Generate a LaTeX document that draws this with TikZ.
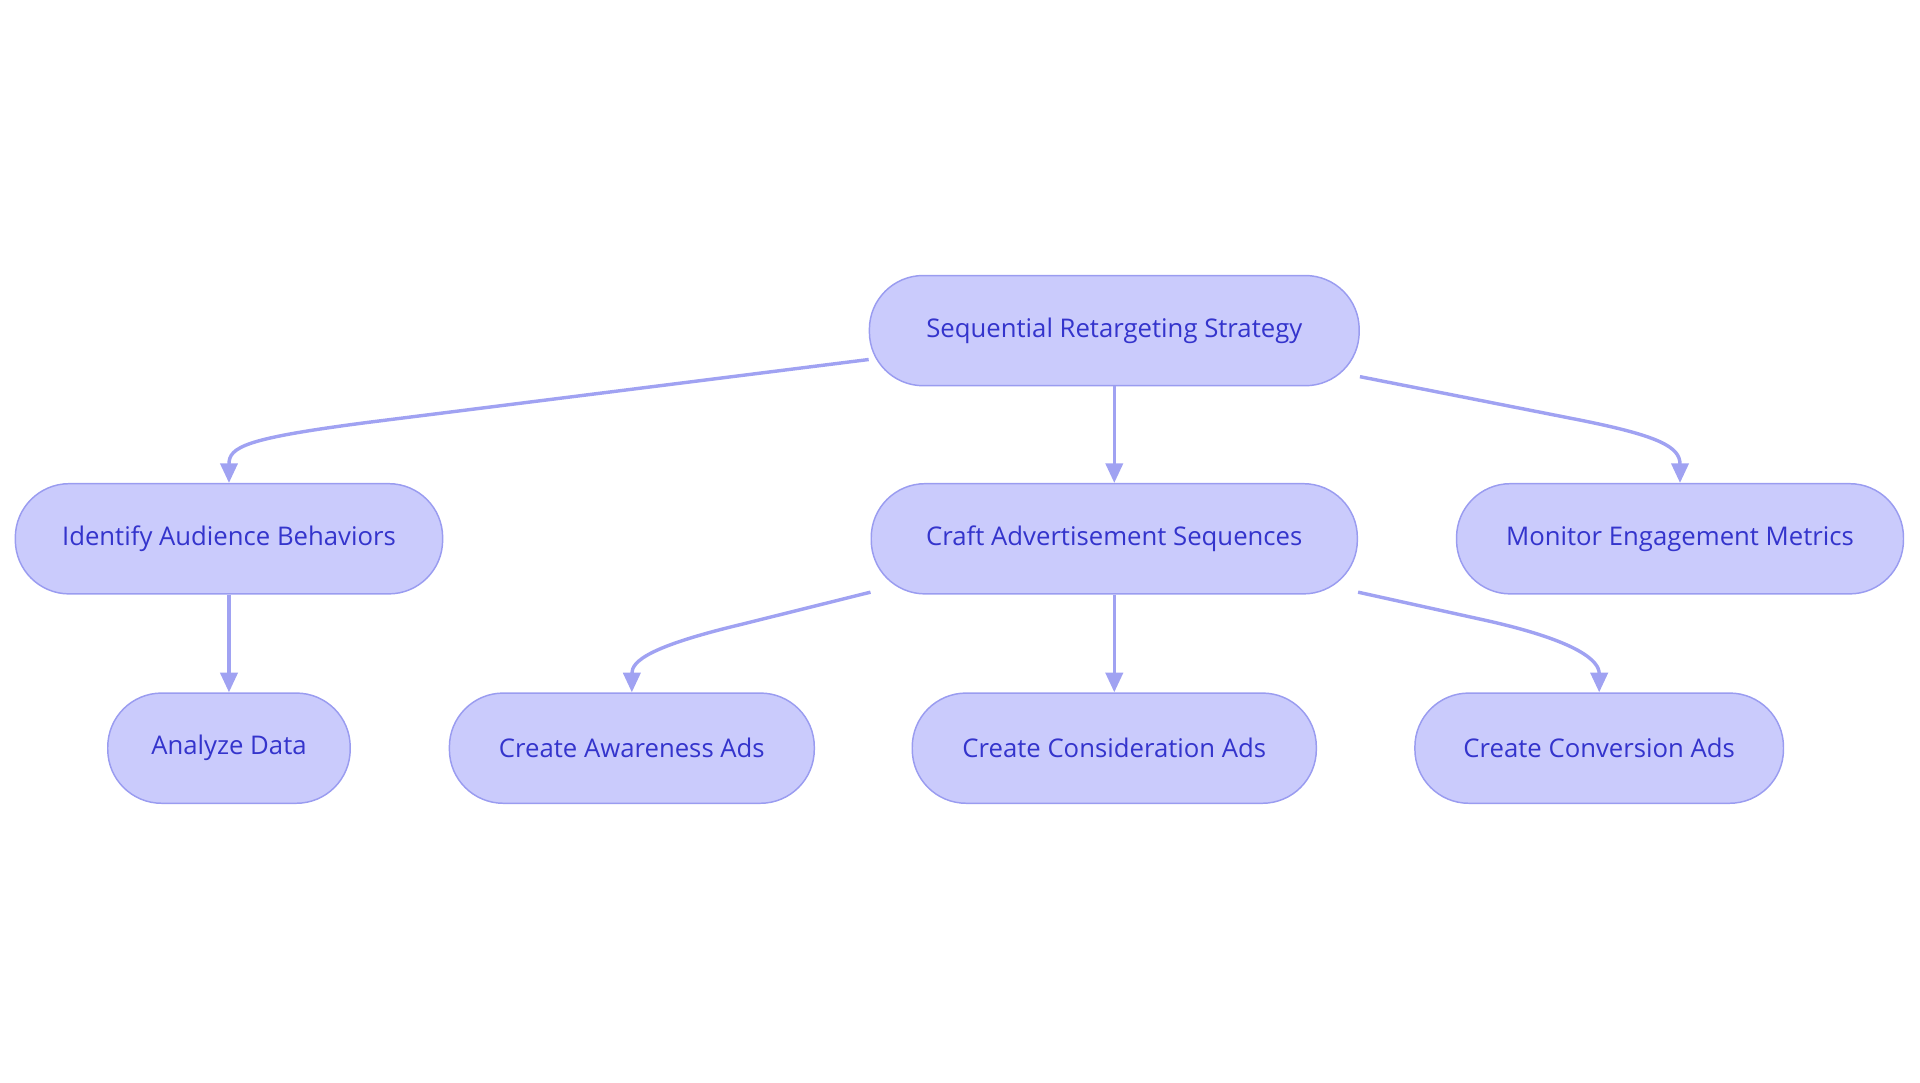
\documentclass[tikz,border=0pt]{standalone}
\usepackage{fontspec}
\setmainfont{Open Sans}
\usetikzlibrary{arrows.meta}
\definecolor{nfill}{HTML}{CACBFC}
\definecolor{ndraw}{HTML}{9A9CF0}
\definecolor{ntext}{HTML}{3434CC}
\definecolor{edge}{HTML}{A0A2F2}
\begin{document}
\begin{tikzpicture}[x=0.5pt,y=-0.5pt,
  box/.style={draw=ndraw,fill=nfill,rounded corners=22pt,minimum height=45pt,text=ntext,font=\fontsize{10.5}{12}\selectfont,inner sep=0pt,line width=0.6pt},
  ed/.style={draw=edge,line width=1.4pt,-{Triangle[width=7pt,length=8pt]}}]
\useasboundingbox (0,0) rectangle (1568,884);
\node[box,minimum width=200pt] (root) at (910,270) {Sequential Retargeting Strategy};
\node[box,minimum width=174.5pt] (iden) at (187,440) {Identify Audience Behaviors};
\node[box,minimum width=198.5pt] (craft) at (910,440) {Craft Advertisement Sequences};
\node[box,minimum width=182.5pt] (mon) at (1372,440) {Monitor Engagement Metrics};
\node[box,minimum width=99pt] (ana) at (187,611) {Analyze Data};
\node[box,minimum width=149pt] (aw) at (516,611) {Create Awareness Ads};
\node[box,minimum width=165pt] (cons) at (910,611) {Create Consideration Ads};
\node[box,minimum width=150.5pt] (conv) at (1306,611) {Create Conversion Ads};
\coordinate (r1) at ([shift={(0,-22)}]root.south west);
\coordinate (r2) at ([shift={(0,-8)}]root.south east);
\coordinate (c1) at ([shift={(0,-2)}]craft.south west);
\coordinate (c2) at ([shift={(0,-2)}]craft.south east);
\draw[ed] (r1) -- (300,345) .. controls (200,358) and (187,365) .. (iden.north);
\draw[ed] (root) -- (craft);
\draw[ed] (r2) -- (1290,343) .. controls (1355,356) and (1372,365) .. (mon.north);
\draw[ed] (iden) -- (ana);
\draw[ed] (c1) -- (605,510) .. controls (530,528) and (516,540) .. (aw.north);
\draw[ed] (craft) -- (cons);
\draw[ed] (c2) -- (1215,507) .. controls (1290,524) and (1306,540) .. (conv.north);
\end{tikzpicture}
\end{document}
